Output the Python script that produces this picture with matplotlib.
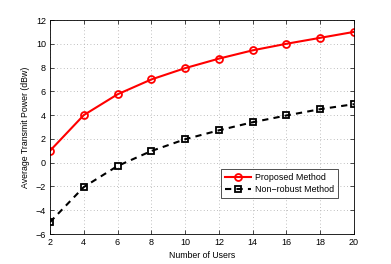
import matplotlib
matplotlib.use('Agg')
import matplotlib.pyplot as plt

users = [2, 4, 6, 8, 10, 12, 14, 16, 18, 20]
proposed = [1.0, 4.0, 5.75, 7.0, 7.95, 8.75, 9.45, 10.0, 10.5, 11.0]
non_robust = [-5.0, -2.05, -0.28, 0.98, 1.97, 2.72, 3.4, 3.97, 4.5, 4.92]

plt.rcParams['font.family'] = ['Liberation Sans', 'DejaVu Sans']
plt.rcParams['font.size'] = 6

fig = plt.figure(figsize=(3.91, 2.64), dpi=100)
ax = fig.add_axes([50 / 391, 30 / 264, 304 / 391, 214 / 264])

ax.plot(users, proposed, '-o', color='red', lw=1.5, ms=5,
        mfc='none', mec='red', mew=1.3, label='Proposed Method')
ax.plot(users, non_robust, '--s', color='black', lw=1.5, ms=4.5,
        mfc='none', mec='black', mew=1.3, dashes=(3, 2.5),
        label='Non\u2212robust Method')

ax.set_xlim(2, 20)
ax.set_ylim(-6, 12)
ax.set_xticks(range(2, 21, 2))
ax.set_yticks(range(-6, 13, 2))
ax.tick_params(direction='in', top=True, right=True, length=3, width=0.5,
               labelsize=6.5, pad=3)
for s in ax.spines.values():
    s.set_linewidth(0.6)
ax.grid(True, linestyle=(0, (1, 3)), color='#aaaaaa', linewidth=0.6)

ax.set_xlabel('Number of Users', fontsize=6.3, labelpad=3)
ax.set_ylabel('Average Transmit Power (dBw)', fontsize=6.3, labelpad=4)

leg = ax.legend(loc='lower right', bbox_to_anchor=(0.947, 0.168),
                fontsize=6.4, fancybox=False, edgecolor='black',
                handlelength=2.9, borderpad=0.45, labelspacing=0.35,
                handletextpad=0.4, borderaxespad=0)
leg.get_frame().set_linewidth(0.6)

plt.savefig('out.png', dpi=100)
